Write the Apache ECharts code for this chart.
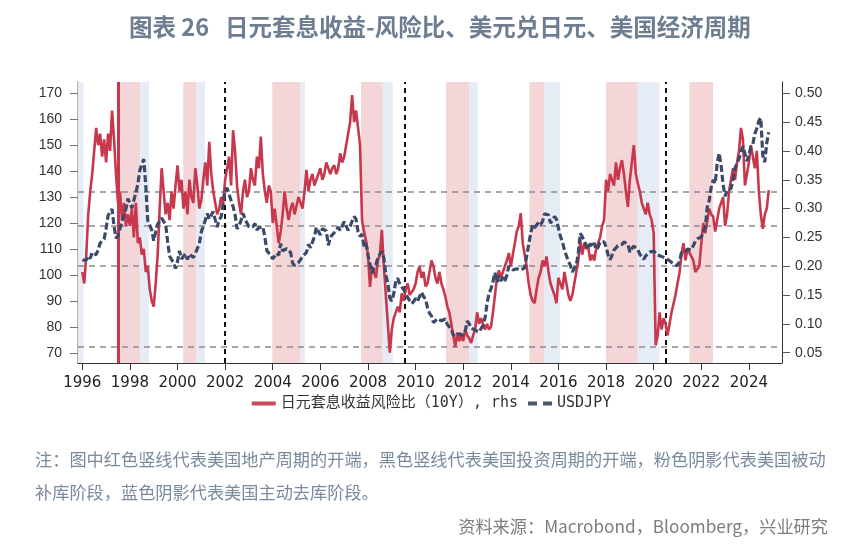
<!DOCTYPE html>
<html><head><meta charset="utf-8">
<script src="https://cdn.jsdelivr.net/npm/echarts@6/dist/echarts.min.js"></script>
<style>html,body{margin:0;padding:0;background:#fff}#c{width:863px;height:551px}</style>
</head><body><div id="c"></div>
<script>
// Monthly data starting Jan 1996
const START_YEAR = 1996;
const usdjpy = [
105.8,105.6,105.9,107.4,106.5,108.8,109.2,107.9,109.8,112.4,112.3,113.9,
118.0,123.0,122.7,125.5,119.0,114.3,115.2,117.9,120.9,121.1,125.4,129.5,
129.5,125.8,128.9,131.8,135.1,140.4,140.7,144.7,134.5,121.1,120.6,117.4,
113.3,116.7,119.6,119.8,122.0,120.7,119.7,113.2,107.4,106.0,104.8,102.6,
105.3,109.4,106.3,105.6,108.3,106.1,108.2,108.1,106.8,108.4,108.9,112.2,
116.7,116.1,121.2,123.8,121.6,122.2,124.5,121.4,118.5,121.5,122.4,127.6,
132.7,133.6,131.1,130.8,126.4,123.4,117.9,118.9,121.1,123.9,121.6,122.2,
118.7,119.3,118.7,119.9,117.4,118.3,118.7,118.7,114.8,109.5,109.2,107.7,
106.3,106.6,108.5,107.7,112.2,109.4,109.5,110.2,110.0,108.8,104.7,103.8,
103.3,104.9,105.0,107.2,106.6,108.8,111.9,110.6,111.2,114.9,118.4,118.5,
115.5,117.9,117.3,117.1,111.5,114.5,115.6,115.9,117.2,118.6,117.3,117.3,
120.6,120.5,117.3,118.8,120.8,122.6,121.6,116.8,115.0,115.8,111.2,112.4,
107.8,107.1,100.8,102.6,104.1,106.9,106.9,109.3,106.6,100.1,96.9,91.3,
90.1,92.9,97.8,98.9,96.6,96.6,94.5,94.9,91.4,90.3,89.1,89.9,
91.1,90.1,90.7,93.5,91.8,90.9,87.6,85.4,84.4,81.8,82.5,83.3,
82.6,82.5,81.8,83.2,81.1,80.4,79.3,77.0,76.8,76.7,77.5,77.8,
76.9,78.5,82.4,81.4,79.7,79.3,78.9,78.7,78.2,78.9,80.8,83.6,
89.0,93.1,94.8,97.7,101.0,97.3,99.7,97.8,99.2,97.8,100.0,103.5,
103.8,102.1,102.3,102.5,101.8,102.0,101.7,102.9,107.4,108.0,116.2,119.3,
118.3,118.8,120.4,119.5,120.8,123.7,123.2,123.2,120.1,120.1,122.6,121.6,
118.2,115.0,113.0,109.7,109.0,105.4,103.9,101.3,102.0,103.9,108.6,116.1,
114.9,113.1,112.9,110.1,112.2,110.9,112.4,109.9,110.8,112.9,112.8,112.9,
110.9,107.9,106.0,107.6,109.7,110.1,111.4,111.0,111.9,112.8,113.4,112.0,
108.9,110.4,111.2,111.6,109.9,108.1,108.3,106.2,107.5,108.2,108.9,109.1,
109.3,110.0,107.8,107.8,107.2,107.6,106.7,106.0,105.6,105.2,104.4,103.8,
103.7,105.4,108.7,109.0,109.1,110.1,110.2,109.8,110.2,113.1,114.0,113.8,
114.8,115.2,118.5,126.2,128.8,133.9,136.7,135.3,143.1,147.0,142.3,134.8,
130.4,132.7,133.0,133.4,137.0,141.2,141.2,144.8,147.7,149.6,149.7,143.9,
146.4,149.5,150.5,154.5,156.5,159.5,160.5,146.0,143.5,151.0,155.0
];
const carryRatio = [
0.19,0.17,0.22,0.29,0.33,0.36,0.40,0.44,0.41,0.43,0.39,0.42,
0.38,0.43,0.40,0.47,0.42,0.36,0.31,0.33,0.28,0.31,0.27,0.29,
0.27,0.30,0.25,0.31,0.24,0.25,0.22,0.23,0.19,0.20,0.16,0.14,
0.13,0.17,0.22,0.30,0.37,0.33,0.29,0.31,0.28,0.33,0.30,0.34,
0.375,0.33,0.35,0.30,0.33,0.29,0.35,0.32,0.31,0.37,0.34,0.30,
0.315,0.35,0.38,0.34,0.416,0.36,0.33,0.31,0.29,0.30,0.32,0.31,
0.35,0.37,0.39,0.34,0.436,0.40,0.34,0.31,0.29,0.33,0.35,0.32,
0.33,0.37,0.35,0.34,0.39,0.37,0.425,0.36,0.33,0.31,0.34,0.33,
0.275,0.30,0.27,0.24,0.26,0.29,0.33,0.30,0.28,0.30,0.31,0.29,
0.29,0.32,0.31,0.30,0.33,0.367,0.33,0.35,0.36,0.34,0.35,0.36,
0.37,0.35,0.36,0.38,0.37,0.36,0.37,0.375,0.36,0.37,0.396,0.38,
0.39,0.41,0.43,0.45,0.497,0.45,0.47,0.44,0.41,0.28,0.26,0.245,
0.22,0.164,0.20,0.19,0.18,0.21,0.22,0.263,0.20,0.15,0.10,0.05,
0.09,0.11,0.12,0.13,0.12,0.153,0.14,0.16,0.17,0.15,0.147,0.16,
0.17,0.19,0.20,0.18,0.19,0.165,0.17,0.19,0.21,0.20,0.18,0.17,
0.19,0.17,0.16,0.147,0.13,0.12,0.10,0.08,0.06,0.085,0.07,0.08,
0.07,0.09,0.08,0.075,0.067,0.08,0.09,0.12,0.10,0.11,0.10,0.09,
0.10,0.09,0.095,0.12,0.15,0.18,0.193,0.18,0.19,0.20,0.21,0.223,
0.20,0.22,0.24,0.26,0.27,0.292,0.24,0.22,0.20,0.17,0.15,0.14,
0.136,0.16,0.18,0.19,0.21,0.20,0.217,0.19,0.17,0.16,0.15,0.136,
0.18,0.17,0.16,0.19,0.17,0.15,0.14,0.15,0.17,0.19,0.21,0.245,
0.22,0.24,0.23,0.234,0.21,0.22,0.21,0.23,0.24,0.25,0.27,0.28,
0.35,0.33,0.36,0.36,0.34,0.38,0.35,0.37,0.384,0.36,0.33,0.303,
0.35,0.38,0.41,0.36,0.344,0.33,0.31,0.30,0.29,0.31,0.29,0.28,
0.257,0.063,0.08,0.12,0.09,0.11,0.10,0.08,0.10,0.12,0.12,0.15,
0.17,0.188,0.22,0.24,0.21,0.23,0.23,0.217,0.21,0.19,0.193,0.20,
0.24,0.275,0.257,0.26,0.30,0.29,0.286,0.26,0.28,0.30,0.31,0.32,
0.27,0.29,0.33,0.35,0.37,0.35,0.38,0.40,0.44,0.42,0.34,0.36,
0.38,0.41,0.39,0.37,0.40,0.33,0.29,0.265,0.29,0.30,0.332
];
// shading periods (decimal years)
const pinkStart = [1997.50, 2000.24, 2003.98, 2007.71, 2011.28, 2014.78, 2018.00, 2021.50];
const pinkEnd   = [1998.42, 2000.80, 2005.17, 2008.62, 2012.26, 2015.41, 2019.33, 2022.49];
const blueStart = [1995.80, 1998.42, 2000.80, 2005.17, 2008.62, 2012.26, 2015.41, 2019.33];
const blueEnd   = [1996.05, 1998.80, 2001.15, 2005.35, 2009.04, 2012.61, 2016.07, 2020.24];
const investCycleStarts = [2002.0, 2009.53, 2020.51];   // black dashed
const propertyCycleStarts = [1997.49];                   // red solid
const ratioRefLines = [0.326, 0.272, 0.200, 0.059];      // grey dashed (rhs)
const xTicks = [1996,1998,2000,2002,2004,2006,2008,2010,2012,2014,2016,2018,2020,2022,2024];
const leftTicks = [70,80,90,100,110,120,130,140,150,160,170];
const rightTicks = [0.05,0.10,0.15,0.20,0.25,0.30,0.35,0.40,0.45,0.50];

const RED = '#c8384d', NAVY = '#3c4a6a';
const monthX = i => START_YEAR + i / 12;
const jpyData = usdjpy.map((v, i) => [monthX(i), v]);
const ratioData = carryRatio.map((v, i) => [monthX(i), v]);

const areas = [];
pinkStart.forEach((s, i) => areas.push([{xAxis: s, itemStyle: {color: '#f4d5d8'}}, {xAxis: pinkEnd[i]}]));
blueStart.forEach((s, i) => areas.push([{xAxis: s, itemStyle: {color: '#e6ecf5'}}, {xAxis: blueEnd[i]}]));

const mlines = [];
ratioRefLines.forEach(v => mlines.push({yAxis: v, lineStyle: {color: '#8a8a8a', width: 1.6, type: [6, 5]}}));
investCycleStarts.forEach(v => mlines.push({xAxis: v, lineStyle: {color: '#111', width: 2, type: [5, 4]}}));
propertyCycleStarts.forEach(v => mlines.push({xAxis: v, lineStyle: {color: RED, width: 3, type: 'solid'}}));

const chart = echarts.init(document.getElementById('c'), null, {renderer: 'canvas'});
const noteFont = '"Noto Sans CJK SC", "Noto Sans", sans-serif';
chart.setOption({
  animation: false,
  title: {
    text: '图表 26   日元套息收益-风险比、美元兑日元、美国经济周期',
    left: 124, top: 10,
    textStyle: {fontFamily: noteFont, fontSize: 23.5, fontWeight: 'bold', color: '#6e7e92'}
  },
  grid: {left: 78, right: 81, top: 82, bottom: 188, containLabel: false},
  legend: {
    top: 391, left: 'center', itemWidth: 24, itemHeight: 4, itemGap: 10,
    textStyle: {fontFamily: '"DejaVu Sans Mono", "Noto Sans CJK SC", monospace', fontSize: 15, color: '#333'},
    data: [
      {name: '日元套息收益风险比（10Y）, rhs', icon: 'path://M0,0 H24 V4 H0 Z', itemStyle: {color: '#c44a5c'}},
      {name: 'USDJPY', icon: 'path://M0,0 H9 V4 H0 Z M15,0 H24 V4 H15 Z', itemStyle: {color: '#4a556e'}}
    ]
  },
  xAxis: {
    type: 'value', min: 1995.82, max: 2025.39,
    axisLine: {lineStyle: {color: '#333', width: 1}},
    axisTick: {show: true, length: 7, customValues: xTicks, lineStyle: {color: '#333'}},
    axisLabel: {customValues: xTicks, formatter: v => String(Math.round(v)), margin: 13,
      fontFamily: '"Liberation Sans Narrow", "DejaVu Sans", sans-serif', fontSize: 15, color: '#222'},
    splitLine: {show: false}
  },
  yAxis: [{
    type: 'value', position: 'left', min: 66.27, max: 174.35,
    axisLine: {show: true, lineStyle: {color: '#999', width: 1.5}},
    axisTick: {show: true, length: 8, customValues: leftTicks, lineStyle: {color: '#777'}},
    axisLabel: {customValues: leftTicks, margin: 16, fontFamily: '"Liberation Sans", sans-serif', fontSize: 14, color: '#333'},
    splitLine: {show: false}
  }, {
    type: 'value', position: 'right', min: 0.0321, max: 0.5196,
    axisLine: {show: true, lineStyle: {color: '#333', width: 1}},
    axisTick: {show: true, length: 8, customValues: rightTicks, lineStyle: {color: '#555'}},
    axisLabel: {customValues: rightTicks, margin: 13, formatter: v => v.toFixed(2),
      fontFamily: '"Liberation Sans", sans-serif', fontSize: 14, color: '#333'},
    splitLine: {show: false}
  }],
  series: [{
    name: '日元套息收益风险比（10Y）, rhs', type: 'line', xAxisIndex: 0, yAxisIndex: 1,
    data: ratioData, showSymbol: false, symbol: 'none', z: 3,
    lineStyle: {color: RED, width: 2.6}, itemStyle: {color: RED},
    markArea: {silent: true, z: 1, data: areas},
    markLine: {silent: true, symbol: 'none', label: {show: false}, z: 2, data: mlines, animation: false}
  }, {
    name: 'USDJPY', type: 'line', xAxisIndex: 0, yAxisIndex: 0,
    data: jpyData, showSymbol: false, symbol: 'none', z: 4,
    lineStyle: {color: NAVY, width: 3.2, type: [7, 3]}, itemStyle: {color: NAVY}
  }],
  graphic: [
    {type: 'text', left: 35, top: 451, style: {text: '注：图中红色竖线代表美国地产周期的开端，黑色竖线代表美国投资周期的开端，粉色阴影代表美国被动',
      font: '17.2px ' + noteFont, fill: '#7a8a9c'}},
    {type: 'text', left: 35, top: 484, style: {text: '补库阶段，蓝色阴影代表美国主动去库阶段。',
      font: '17.2px ' + noteFont, fill: '#7a8a9c'}},
    {type: 'text', right: 35, top: 518, style: {text: '资料来源：Macrobond，Bloomberg，兴业研究',
      font: '17.2px ' + noteFont, fill: '#7d7d7d'}}
  ]
});
</script></body></html>
